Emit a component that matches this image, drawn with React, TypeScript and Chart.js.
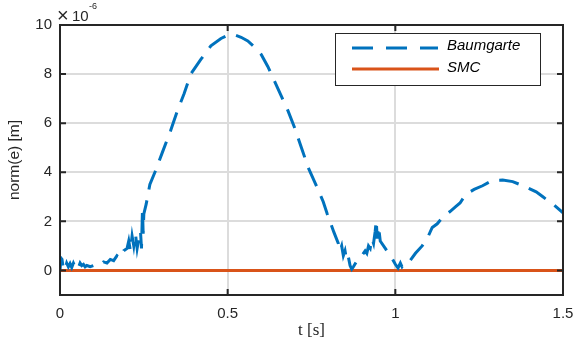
import React, { useEffect, useRef } from "react";
import { Chart, registerables } from "chart.js";

Chart.register(...registerables);

const baumT = [
  0, 0.003, 0.006, 0.009, 0.012, 0.016, 0.02, 0.025, 0.03, 0.035, 0.04, 0.045, 0.05, 0.055, 0.06, 0.065, 0.07, 0.075, 0.08,
  0.09, 0.1, 0.11, 0.12, 0.13, 0.14, 0.15, 0.16, 0.17, 0.18, 0.19, 0.2, 0.205, 0.21, 0.215, 0.22, 0.225, 0.23, 0.235, 0.24,
  0.243, 0.246, 0.248, 0.25, 0.257, 0.268, 0.283, 0.305, 0.33, 0.35, 0.37, 0.39, 0.42, 0.45, 0.48, 0.5, 0.52, 0.54, 0.56,
  0.58, 0.6, 0.62, 0.64, 0.66, 0.68, 0.7, 0.72, 0.74, 0.763, 0.785, 0.797, 0.817, 0.83, 0.835, 0.84, 0.845, 0.85, 0.855,
  0.86, 0.865, 0.87, 0.875, 0.886, 0.9, 0.91, 0.915, 0.92, 0.925, 0.93, 0.935, 0.94, 0.943, 0.946, 0.95, 0.955, 0.97, 0.99,
  1.0, 1.008, 1.015, 1.02, 1.03, 1.044, 1.06, 1.08, 1.095, 1.11, 1.125, 1.14, 1.163, 1.18, 1.193, 1.21, 1.235, 1.26, 1.29,
  1.32, 1.35, 1.39, 1.42, 1.44, 1.47, 1.5,
];
const baumV = [
  0.0, 0.5, 0.45, 0.15, 0.25, 0.1, 0.3, 0.15, 0.28, 0.12, 0.3, 0.15, 0.25, 0.12, 0.3, 0.2, 0.25, 0.15, 0.2,
  0.15, 0.2, 0.25, 0.22, 0.35, 0.3, 0.45, 0.4, 0.6, 0.5, 0.8, 0.9, 1.2, 0.8, 1.4, 1.0, 1.5, 0.9, 1.3, 1.6,
  0.9, 2.5, 1.5, 2.3, 2.7, 3.5, 4.0, 4.8, 5.7, 6.5, 7.2, 8.0, 8.6, 9.15, 9.45, 9.58, 9.6, 9.5, 9.35,
  9.1, 8.8, 8.3, 7.7, 7.1, 6.5, 5.8, 5.0, 4.2, 3.5, 2.8, 2.3, 1.55, 1.1, 0.8, 1.0, 0.6, 0.8, 0.4,
  0.55, 0.2, 0.05, 0.15, 0.4, 0.6, 0.8, 0.7, 1.0, 0.9, 1.3, 1.1, 1.6, 2.05, 1.3, 1.8, 1.2, 0.9, 0.5,
  0.25, 0.1, 0.3, 0.15, 0.35, 0.4, 0.7, 1.0, 1.3, 1.75, 1.9, 2.15, 2.4, 2.6, 2.75, 3.1, 3.3, 3.45, 3.67,
  3.68, 3.62, 3.4, 3.2, 3.0, 2.7, 2.35,
];
const smcT = [0, 1.5];
const smcV = [0, 0];

const xTicks = [0, 0.5, 1, 1.5];
const yTicks = [0, 2, 4, 6, 8, 10];
const seriesNames = ["Baumgarte", "SMC"];
const xTitle = "t [s]";
const yTitle = "norm(e) [m]";

const BLUE = "#0072BD";
const ORANGE = "#D95319";
const AXIS = "#262626";

const overlay = {
  id: "overlay",
  afterDatasetsDraw(chart: any) {
    const { ctx, chartArea, scales } = chart;
    const { left, right, top, bottom } = chartArea;
    const x = scales.x;
    const y = scales.y;
    ctx.save();
    ctx.strokeStyle = AXIS;
    ctx.lineWidth = 2;
    ctx.strokeRect(left, top, right - left, bottom - top);
    ctx.beginPath();
    yTicks.forEach((v) => {
      const py = y.getPixelForValue(v);
      ctx.moveTo(left, py);
      ctx.lineTo(left + 6, py);
      ctx.moveTo(right, py);
      ctx.lineTo(right - 6, py);
    });
    xTicks.forEach((v) => {
      const px = x.getPixelForValue(v);
      ctx.moveTo(px, bottom);
      ctx.lineTo(px, bottom - 6);
      ctx.moveTo(px, top);
      ctx.lineTo(px, top + 6);
    });
    ctx.stroke();

    // exponent label
    ctx.fillStyle = AXIS;
    ctx.textBaseline = "alphabetic";
    ctx.textAlign = "left";
    ctx.font = "20px 'Liberation Sans', Arial, sans-serif";
    ctx.fillText("\u00d7", left - 3, top - 3);
    ctx.font = "15px 'Liberation Sans', Arial, sans-serif";
    ctx.fillText("10", left + 12, top - 4);
    ctx.font = "9px 'Liberation Sans', Arial, sans-serif";
    ctx.fillText("-6", left + 29, top - 16);

    // y title
    ctx.save();
    ctx.translate(15, (top + bottom) / 2);
    ctx.rotate(-Math.PI / 2);
    ctx.textAlign = "center";
    ctx.textBaseline = "middle";
    ctx.font = "15.5px 'Liberation Sans', Arial, sans-serif";
    ctx.fillText(yTitle, 0, 0);
    ctx.restore();

    // x title
    ctx.textAlign = "center";
    ctx.textBaseline = "middle";
    ctx.font = "17px 'Liberation Serif', 'DejaVu Serif', serif";
    ctx.fillText(xTitle, (left + right) / 2, 331);

    // legend
    const lx = 335, ly = 33, lw = 205, lh = 52;
    ctx.fillStyle = "#ffffff";
    ctx.fillRect(lx, ly, lw, lh);
    ctx.strokeStyle = AXIS;
    ctx.lineWidth = 1;
    ctx.strokeRect(lx + 0.5, ly + 0.5, lw, lh);
    ctx.lineWidth = 3;
    ctx.strokeStyle = BLUE;
    ctx.setLineDash([21, 13]);
    ctx.beginPath();
    ctx.moveTo(352, 48);
    ctx.lineTo(438, 48);
    ctx.stroke();
    ctx.setLineDash([]);
    ctx.strokeStyle = ORANGE;
    ctx.beginPath();
    ctx.moveTo(352, 69);
    ctx.lineTo(439, 69);
    ctx.stroke();
    ctx.fillStyle = "#000000";
    ctx.textAlign = "left";
    ctx.textBaseline = "middle";
    ctx.font = "italic 15px 'Liberation Sans', Arial, sans-serif";
    ctx.fillText(seriesNames[0], 447, 46);
    ctx.fillText(seriesNames[1], 447, 68);
    ctx.restore();
  },
};

export default function App() {
  const ref = useRef<HTMLCanvasElement>(null);
  useEffect(() => {
    if (!ref.current) return;
    const chart = new Chart(ref.current, {
      type: "line",
      data: {
        datasets: [
          {
            label: seriesNames[0],
            data: baumT.map((t, i) => ({ x: t, y: baumV[i] })),
            borderColor: BLUE,
            borderWidth: 3,
            borderDash: [20, 11],
            pointRadius: 0,
            tension: 0,
            fill: false,
          },
          {
            label: seriesNames[1],
            data: smcT.map((t, i) => ({ x: t, y: smcV[i] })),
            borderColor: ORANGE,
            borderWidth: 3,
            pointRadius: 0,
            fill: false,
          },
        ],
      },
      options: {
        responsive: false,
        animation: false,
        layout: { padding: { left: 0, right: 12, top: 25, bottom: 0 } },
        plugins: { legend: { display: false }, tooltip: { enabled: false } },
        scales: {
          x: {
            type: "linear",
            min: 0,
            max: 1.5,
            afterBuildTicks: (s: any) => {
              s.ticks = xTicks.map((v) => ({ value: v }));
            },
            afterFit: (s: any) => {
              s.height = 47;
              s.paddingLeft = 0;
              s.paddingRight = 0;
            },
            grid: { color: "#dcdcdc", lineWidth: 2, drawTicks: false },
            border: { display: false },
            ticks: {
              padding: 10,
              color: AXIS,
              font: { family: "'Liberation Sans', Arial, sans-serif", size: 15 },
              callback: (v: any) => String(v),
              maxRotation: 0,
            },
          },
          y: {
            type: "linear",
            min: -1,
            max: 10,
            afterBuildTicks: (s: any) => {
              s.ticks = yTicks.map((v) => ({ value: v }));
            },
            afterFit: (s: any) => {
              s.width = 60;
              s.paddingTop = 0;
              s.paddingBottom = 0;
            },
            grid: { color: "#dcdcdc", lineWidth: 2, drawTicks: false },
            border: { display: false },
            ticks: {
              padding: 8,
              color: AXIS,
              font: { family: "'Liberation Sans', Arial, sans-serif", size: 15 },
              callback: (v: any) => String(v),
            },
          },
        },
      },
      plugins: [overlay],
    });
    return () => chart.destroy();
  }, []);
  return (
    <div style={{ position: "absolute", left: 0, top: 0, width: 575, height: 342, background: "#fff" }}>
      <canvas ref={ref} width={575} height={342} />
    </div>
  );
}
